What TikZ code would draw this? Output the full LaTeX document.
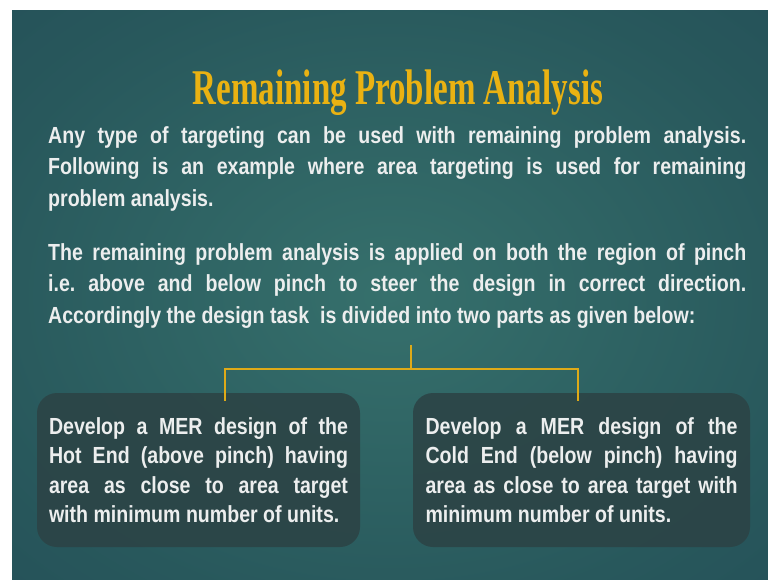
\documentclass[tikz,border=0pt]{standalone}
\usepackage{fontspec}
\newfontfamily\bodyfont{Liberation Sans}[FakeStretch=0.84]
\newfontfamily\titlefont{Liberation Serif}[FakeStretch=0.66]
\usetikzlibrary{calc}
\definecolor{bgc}{RGB}{54,112,108}
\definecolor{bgm}{RGB}{40,88,92}
\definecolor{bge}{RGB}{27,59,79}
\definecolor{boxc}{RGB}{44,68,70}
\definecolor{gold}{RGB}{222,170,24}
\definecolor{titlegold}{RGB}{234,178,18}
\definecolor{txt}{RGB}{236,238,238}
\pgfdeclareradialshading{slidebg}{\pgfpoint{0bp}{0bp}}{color(0bp)=(bgc); color(28bp)=(bgm); color(71bp)=(bge)}
\newcommand\mysetup{\frenchspacing\hyphenpenalty=10000 \tolerance=9000 }
\tikzset{
  bodytext/.style={text=txt, font=\bodyfont\bfseries\fontsize{23.3}{31.5}\selectfont, execute at begin node=\mysetup},
  para/.style={bodytext, text width=698pt, align=justify, inner sep=0pt},
  boxnode/.style={bodytext, rounded corners=20pt, fill=boxc, fill opacity=0.9, text opacity=1,
    align=justify, inner sep=0pt, minimum height=154pt, font=\bodyfont\bfseries\fontsize{23.3}{29.5}\selectfont},
  conn/.style={draw=gold, line width=2pt},
  titlestyle/.style={text=titlegold, font=\titlefont\bfseries\fontsize{50}{56}\selectfont, inner sep=0pt}
}
\begin{document}
\begin{tikzpicture}[x=1pt,y=-1pt]
\useasboundingbox (0,0) rectangle (768,580);
\fill[white] (0,0) rectangle (768,580);
\shade[shading=slidebg] (12,11) rectangle (768,580);

\node[titlestyle, anchor=base] (title) at (398,105) {Remaining Problem Analysis};

\node[para, anchor=north west] (p1) at (48,126) {Any type of targeting can be used with remaining problem analysis.\linebreak
Following is an example where area targeting is used for remaining\linebreak
problem analysis.};

\node[para, anchor=north west] (p2) at (48,243) {The remaining problem analysis is applied on both the region of pinch\linebreak
i.e. above and below pinch to steer the design in correct direction.\linebreak
Accordingly the design task\ \ is divided into two parts as given below:};

\node[boxnode, text width=299pt, minimum width=323pt] (hot) at (198.5,470) {Develop a MER design of the\linebreak
Hot End (above pinch) having\linebreak
area as close to area target\linebreak
with minimum number of units.};

\node[boxnode, text width=312pt, minimum width=337pt] (cold) at (581.5,470) {Develop a MER design of the\linebreak
Cold End (below pinch) having\linebreak
area as close to area target with\linebreak
minimum number of units.};

\coordinate (stem) at (411,345);
\coordinate (join) at (411,369);
\coordinate (lj) at (225,369);
\coordinate (rj) at (578,369);
\coordinate (ld) at ($(lj |- hot.north)+(0,8)$);
\coordinate (rd) at ($(rj |- cold.north)+(0,8)$);
\draw[conn] (stem) -- (join);
\draw[conn, line cap=rect] (lj) -- (rj);
\draw[conn] (lj) -- (ld);
\draw[conn] (rj) -- (rd);
\end{tikzpicture}
\end{document}
